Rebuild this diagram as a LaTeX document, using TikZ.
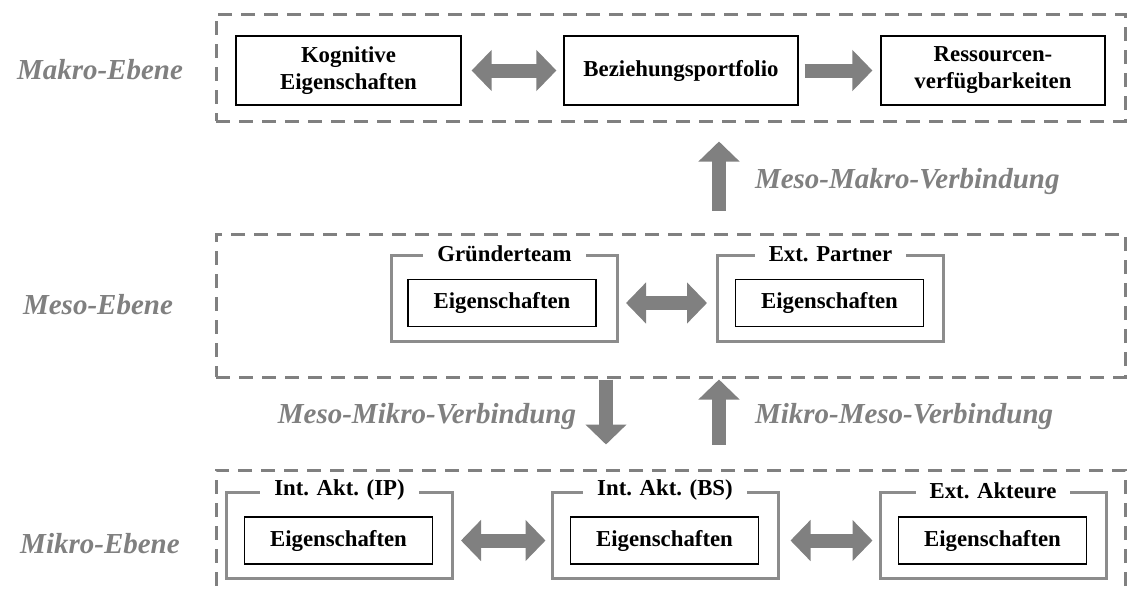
\documentclass[tikz,border=0pt]{standalone}
\usepackage{fontspec}
\setmainfont{Liberation Serif}
\usetikzlibrary{arrows.meta, positioning}
\definecolor{cgrey}{HTML}{808080}
\definecolor{cframe}{HTML}{8C8C8C}
\tikzset{
  every picture/.style={font=\bfseries\fontsize{11.4}{13.5}\selectfont},
  lvl/.style={draw=cgrey, dash pattern=on 7pt off 4.5pt, line width=1.5pt, minimum width=454.5pt, inner sep=0pt},
  lbl/.style={text=cgrey, font=\bfseries\itshape\fontsize{14.5}{16}\selectfont, inner sep=0pt},
  box/.style={draw, line width=0.6pt, align=center, minimum height=34.5pt, inner sep=0pt},
  group/.style={draw=cframe, line width=1.5pt, minimum width=113pt, minimum height=43pt, inner sep=0pt},
  inbox/.style={draw, line width=0.6pt, minimum width=94pt, minimum height=23.5pt, inner sep=0pt},
  grouptitle/.style={fill=white, inner xsep=7pt, inner ysep=1pt},
  blockhead/.tip={Triangle[width=20pt, length=10pt]},
  biarrow/.style={draw=cgrey, line width=7pt, blockhead-blockhead, shorten <=3.5pt, shorten >=3.5pt},
  monoarrow/.style={draw=cgrey, line width=7pt, -blockhead, shorten <=3pt, shorten >=4pt},
}
\begin{document}
\begin{tikzpicture}[x=0.5pt, y=-0.5pt]
  \useasboundingbox (0,0) rectangle (1130,590);
  \clip (0,0) rectangle (1130,590);
  \coordinate (up) at (719,0);
  \coordinate (down) at (606,0);
  % Makro-Ebene
  \node[lvl, minimum height=53.5pt] (makro) at (670.5,67.5) {};
  \node[lbl] (makrolbl) at (100,70) {Makro-Ebene};
  \node[box, minimum width=112.5pt] (kog) at (348.5,70.5) {Kognitive\\Eigenschaften};
  \node[box, minimum width=117pt] (bez) at (681,70.5) {Beziehungsportfolio};
  \node[box, minimum width=112pt] (res) at (993,70.5) {Ressourcen-\\verfügbarkeiten};
  \draw[biarrow, shorten <=5pt] (kog) -- (bez);
  \draw[monoarrow] (bez) -- (res);
  % Meso-Ebene
  \node[lvl, minimum height=71.5pt] (meso) at (670.5,305.5) {};
  \node[lbl] (mesolbl) at (98,305) {Meso-Ebene};
  \node[group] (gt) at (504.5,298.5) {};
  \node[inbox] (gtbox) at (502,303) {Eigenschaften};
  \node[grouptitle] (gttitle) at (gt.north) {Gründerteam};
  \node[group] (ep) at (830.5,298.5) {};
  \node[inbox] (epbox) at (829.5,303) {Eigenschaften};
  \node[grouptitle] (eptitle) at (ep.north) {Ext. Partner};
  \draw[biarrow, shorten >=4.5pt] (gt.east |- gtbox) -- (ep.west |- epbox);
  \draw[monoarrow, shorten <=11pt, shorten >=9.5pt] (up |- meso.north) -- node[lbl, right=14.5pt, pos=0.46] {Meso-Makro-Verbindung} (up |- makro.south);
  % Mikro-Ebene
  \node[lvl, minimum height=75pt] (mikro) at (670.5,545) {};
  \node[lbl] (mikrolbl) at (100,544) {Mikro-Ebene};
  \node[group] (ip) at (339.5,535) {};
  \node[inbox] (ipbox) at (338.5,540.5) {Eigenschaften};
  \node[grouptitle] (iptitle) at (ip.north) {Int. Akt. (IP)};
  \node[group] (bs) at (665,535) {};
  \node[inbox] (bsbox) at (664.5,540.5) {Eigenschaften};
  \node[grouptitle] (bstitle) at (bs.north) {Int. Akt. (BS)};
  \node[group] (ea) at (993,535) {};
  \node[inbox] (eabox) at (992.5,540.5) {Eigenschaften};
  \node[grouptitle] (eatitle) at (ea.north) {Ext. Akteure};
  \draw[biarrow, shorten >=2.5pt] (ip.east |- ipbox) -- (bs.west |- bsbox);
  \draw[biarrow, shorten <=5.5pt, shorten >=3pt] (bs.east |- bsbox) -- (ea.west |- eabox);
  % Verbindungen Meso - Mikro
  \draw[monoarrow, shorten <=0.5pt, shorten >=12pt] (down |- meso.south) -- node[lbl, left=11.5pt, pos=0.42] {Meso-Mikro-Verbindung} (down |- mikro.north);
  \draw[monoarrow, shorten <=12pt, shorten >=0.5pt] (up |- mikro.north) -- node[lbl, right=14.5pt, pos=0.58] {Mikro-Meso-Verbindung} (up |- meso.south);
\end{tikzpicture}
\end{document}
